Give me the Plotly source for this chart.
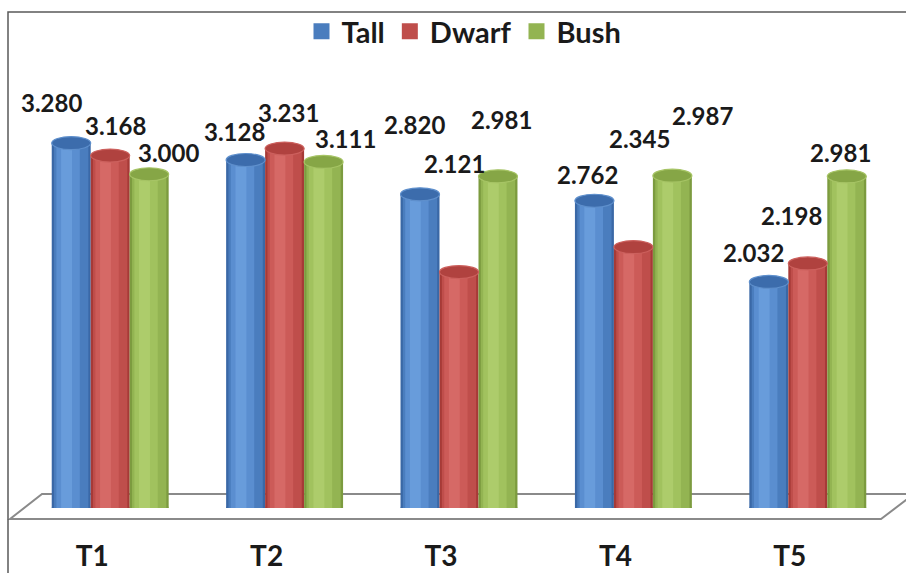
import plotly.graph_objects as go

# ---- data -------------------------------------------------------------
categories = ["T1", "T2", "T3", "T4", "T5"]
series_names = ["Tall", "Dwarf", "Bush"]
tall = [3.280, 3.128, 2.820, 2.762, 2.032]
dwarf = [3.168, 3.231, 2.121, 2.345, 2.198]
bush = [3.000, 3.111, 2.981, 2.987, 2.981]
series_values = [tall, dwarf, bush]

# ---- styling ----------------------------------------------------------
FONT = "Lato"
W, H = 906, 573
M_L, M_R, M_T, M_B = 23, 11, 63, 65
PLOT_W = W - M_L - M_R
PLOT_H = H - M_T - M_B

BAR_W = 0.2235                       # bar width in category units
offsets = [-1.5 * BAR_W, -0.5 * BAR_W, 0.5 * BAR_W]

palettes = {
    "Tall":  {"dark": "#3A68A6", "mid": "#4A7DBE", "light": "#5A8ED0",
              "hi": "#689CDB", "cap": "#3C6CAC", "rim": "#5E8FCC"},
    "Dwarf": {"dark": "#A63A37", "mid": "#BF4E4B", "light": "#CC5B58",
              "hi": "#D66966", "cap": "#B0423F", "rim": "#CC605D"},
    "Bush":  {"dark": "#7C9B3F", "mid": "#93B452", "light": "#A1C25E",
              "hi": "#ADCC6B", "cap": "#86A646", "rim": "#A6C465"},
}
# shading bands for a cylinder look: (relative width, relative centre shift, colour key)
bands = [(0.88, 0.0, "mid"), (0.6, -0.08, "light"), (0.28, -0.12, "hi")]

# pixel offsets of value labels relative to the top of each bar (dx, dy up)
label_shift = [
    [(-20, 41), (-11, 29), (-6, 70), (-7, 26), (-15, 29)],
    [(5, 30), (4, 36), (-5, 109), (6, 109), (-16, 48)],
    [(19, 22), (22, 23), (4, 57), (30, 60), (-6, 24)],
]


def px(x, y):
    """Convert page pixels to paper coordinates."""
    return (x - M_L) / PLOT_W, (H - M_B - y) / PLOT_H


fig = go.Figure()
shapes = []
annotations = []

# floor (drawn under the bars)
fl = [px(10, 519), px(42, 494), px(914, 494), px(881, 519)]
path = "M " + " L ".join(f"{a:.5f},{b:.5f}" for a, b in fl) + " Z"
shapes.append(dict(type="path", path=path, xref="paper", yref="paper",
                   line=dict(color="#8A8A8A", width=2), fillcolor="rgba(255,255,255,0)",
                   layer="below"))

for s, (name, vals) in enumerate(zip(series_names, series_values)):
    pal = palettes[name]
    # body of each cylinder
    fig.add_trace(go.Bar(
        name=name, x=categories, y=vals, width=BAR_W, offset=offsets[s],
        marker=dict(color=pal["dark"], line=dict(width=0)),
        showlegend=False, hoverinfo="skip"))
    for rel_w, rel_shift, key in bands:
        bw = BAR_W * rel_w
        off = offsets[s] + (BAR_W - bw) / 2 + rel_shift * BAR_W
        fig.add_trace(go.Bar(
            x=categories, y=vals, width=bw, offset=off,
            marker=dict(color=pal[key], line=dict(width=0)),
            showlegend=False, hoverinfo="skip"))
    # legend entry
    fig.add_trace(go.Scatter(name=name, x=[None], y=[None], mode="markers",
                             marker=dict(symbol="square", size=16, color=pal["mid"]),
                             showlegend=True))

    for i, v in enumerate(vals):
        xc = i + offsets[s] + BAR_W / 2
        half = 19.5
        # rounded bottom
        shapes.append(dict(type="circle", xref="x", yref="y",
                           xsizemode="pixel", ysizemode="pixel",
                           xanchor=xc, yanchor=0,
                           x0=-half, x1=half, y0=-6, y1=6,
                           fillcolor=pal["mid"], line=dict(width=0),
                           layer="below"))
        # top cap
        shapes.append(dict(type="circle", xref="x", yref="y",
                           xsizemode="pixel", ysizemode="pixel",
                           xanchor=xc, yanchor=v,
                           x0=-half, x1=half, y0=-6.5, y1=6.5,
                           fillcolor=pal["cap"],
                           line=dict(color=pal["rim"], width=1.2),
                           layer="above"))
        dx, dy = label_shift[s][i]
        annotations.append(dict(
            x=xc, y=v, xref="x", yref="y", text=f"<b>{v:.3f}</b>",
            showarrow=False, xanchor="center", yanchor="middle",
            xshift=dx, yshift=dy,
            font=dict(family=FONT, size=24, color="#1A1A1A")))

# outer frame (left and top edges)
f0 = px(8, H + 5)
f1 = px(8, 12)
f2 = px(W + 5, 12)
shapes.append(dict(type="path", xref="paper", yref="paper",
                   path=f"M {f0[0]:.5f},{f0[1]:.5f} L {f1[0]:.5f},{f1[1]:.5f} L {f2[0]:.5f},{f2[1]:.5f}",
                   line=dict(color="#5A5A5A", width=1.5)))

lx, ly = px(464, 6)
fig.update_layout(
    width=W, height=H,
    margin=dict(l=M_L, r=M_R, t=M_T, b=M_B, autoexpand=False),
    paper_bgcolor="white", plot_bgcolor="white",
    barmode="overlay",
    showlegend=True,
    legend=dict(orientation="h", x=lx, y=ly, xanchor="center", yanchor="top",
                font=dict(family=FONT, size=29, color="#1A1A1A", weight="bold"),
                itemwidth=30, bgcolor="rgba(0,0,0,0)", traceorder="normal"),
    xaxis=dict(type="category", range=[-0.5, 4.5], showgrid=False, showline=False,
               zeroline=False, ticks="", ticklabelshift=-18, ticklabelstandoff=29,
               automargin=False,
               tickfont=dict(family=FONT, size=28, color="#1A1A1A", weight="bold")),
    yaxis=dict(range=[0, 4.0], visible=False, showgrid=False, zeroline=False,
               automargin=False),
    shapes=shapes,
    annotations=annotations,
)

fig.write_html("out.html")
